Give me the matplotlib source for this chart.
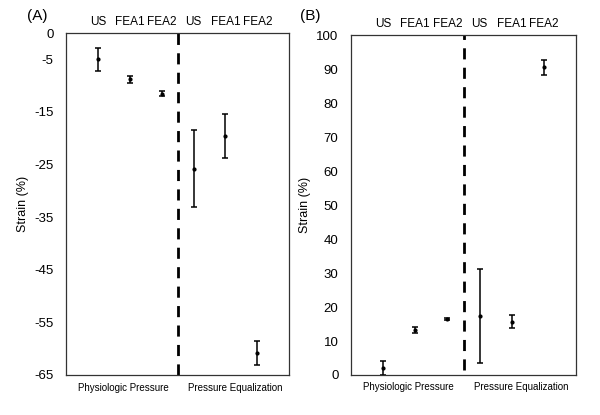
import matplotlib
matplotlib.use("Agg")
import matplotlib.pyplot as plt

plt.rcParams['font.family'] = ['Liberation Sans', 'DejaVu Sans']

# categories (top labels) and groups (bottom labels)
methods = ["US", "FEA1", "FEA2", "US", "FEA1", "FEA2"]
groups = ["Physiologic Pressure", "Pressure Equalization"]

# panel A: strain (%), mean and error
strain_a = [-5.0, -8.8, -11.5, -25.8, -19.6, -60.8]
err_a = [2.2, 0.7, 0.4, 7.3, 4.2, 2.3]
ticks_a = [0, -5, -15, -25, -35, -45, -55, -65]

# panel B
strain_b = [2.0, 13.2, 16.6, 17.3, 15.7, 90.5]
err_b = [2.0, 0.8, 0.3, 13.8, 1.9, 2.2]
ticks_b = [0, 10, 20, 30, 40, 50, 60, 70, 80, 90, 100]


def draw_panel(ax, vals, errs, ticks, ylim, dash_bottom):
    x = list(range(1, len(vals) + 1))
    ax.errorbar(x, vals, yerr=errs, fmt='o', color='black', ms=2,
                capsize=2.5, elinewidth=1.1, capthick=1.1)
    ax.set_xlim(0, 7)
    ax.set_ylim(*ylim)
    ax.set_yticks(ticks)
    ax.set_yticklabels([str(t) for t in ticks], fontsize=9.5)
    ax.tick_params(axis='y', length=0, pad=9)
    ax.set_xticks([])
    ax.set_ylabel("Strain (%)", fontsize=9)
    for s in ax.spines.values():
        s.set_color('#333333')
        s.set_linewidth(0.9)

    # divider between the two pressure conditions
    ax.plot([3.5, 3.5], [dash_bottom, ylim[1]], color='black', lw=2,
            ls=(0, (4, 3)), clip_on=False)

    # method labels over the axes
    for xi, m in zip(x, methods):
        ax.text(xi, 1.015, m, transform=ax.get_xaxis_transform(),
                ha='center', va='bottom', fontsize=8.5)
    # condition labels under the axes
    ax.text(1.8, -0.022, groups[0], transform=ax.get_xaxis_transform(),
            ha='center', va='top', fontsize=7)
    ax.text(5.3, -0.022, groups[1], transform=ax.get_xaxis_transform(),
            ha='center', va='top', fontsize=7)


fig = plt.figure(figsize=(6, 4.15), dpi=100)
ax1 = fig.add_axes([0.110, 0.0964, 0.372, 0.824])
ax2 = fig.add_axes([0.585, 0.0964, 0.375, 0.819])

draw_panel(ax1, strain_a, err_a, ticks_a, (-65, 0), -65)
draw_panel(ax2, strain_b, err_b, ticks_b, (0, 100), 1.5)

fig.text(27 / 600, 1 - 16 / 415, "(A)", ha='left', va='center', fontsize=11)
fig.text(300 / 600, 1 - 16 / 415, "(B)", ha='left', va='center', fontsize=11)

fig.savefig("out.png", dpi=100)
